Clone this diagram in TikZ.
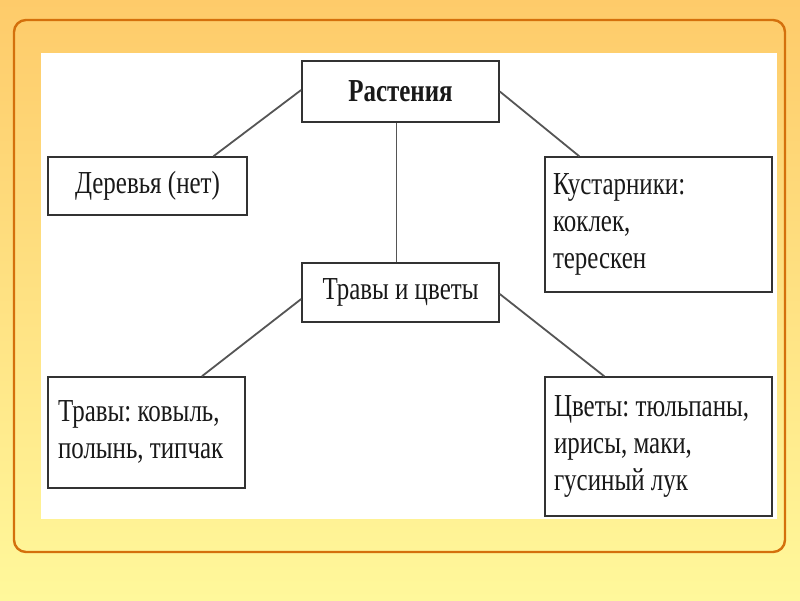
\documentclass[tikz,border=0pt]{standalone}
\usepackage{fontspec}
\setmainfont{Liberation Serif}[FakeStretch=0.78]
\usetikzlibrary{calc}
\definecolor{bgtop}{RGB}{254,203,106}
\definecolor{bgbot}{RGB}{255,248,155}
\definecolor{frame}{RGB}{212,112,12}
\definecolor{boxline}{RGB}{50,50,50}
\definecolor{conn}{RGB}{85,85,85}
\newcommand{\lines}[1]{\spaceskip=0pt\xspaceskip=0pt\begin{tabular}{@{}l@{}}#1\end{tabular}}
\tikzset{
  box/.style={draw=boxline, line width=1.6pt, fill=white, rectangle, inner ysep=0pt,
    font=\fontsize{32}{37}\selectfont\frenchspacing, text=black!90},
  cbox/.style={box, align=center},
  lbox/.style={box},
  link/.style={draw=conn, line width=1.8pt}
}
\begin{document}
\begin{tikzpicture}[x=1pt,y=-1pt]
\useasboundingbox (0,0) rectangle (800,600);
\shade[top color=bgtop, bottom color=bgbot] (0,0) rectangle (800,600);
\draw[frame, line width=2.4pt, rounded corners=12pt] (14,20) rectangle (785,552);
\fill[white] (41,53) rectangle (777,519);

\node[cbox, minimum width=197pt, minimum height=61pt] (rast) at (400.5,91.5) {\bfseries Растения};
\node[cbox, minimum width=199pt, minimum height=58pt] (der) at (147.5,186) {Деревья (нет)};
\node[lbox, minimum width=227pt, minimum height=135pt, inner xsep=7pt, text width=211pt] (kust) at (658.5,224.5) {\lines{Кустарники:\\коклек,\\терескен}};
\node[cbox, minimum width=197pt, minimum height=59pt] (tc) at (400.5,292.5) {Травы и цветы};
\node[lbox, minimum width=197pt, minimum height=111pt, inner xsep=9pt, text width=177pt] (trav) at (146.5,432.5) {\lines{Травы: ковыль,\\полынь, типчак}};
\node[lbox, minimum width=227pt, minimum height=139pt, inner xsep=8pt, text width=209pt] (cvet) at (658.5,446.5) {\lines{Цветы: тюльпаны,\\ирисы, маки,\\гусиный лук}};

\draw[link] ([yshift=1.5pt]rast.west) -- ($(der.north)+(66,0)$);
\draw[link] (rast.east) -- ($(kust.north west)+(35,0)$);
\draw[link] ([xshift=-4pt]rast.south) -- ([xshift=-4pt]tc.north);
\draw[link] ([yshift=-6.5pt]tc.west) -- ($(trav.north)+(55.5,0)$);
\draw[link] ([yshift=-1.5pt]tc.east) -- ($(cvet.north west)+(60,0)$);
\end{tikzpicture}
\end{document}
